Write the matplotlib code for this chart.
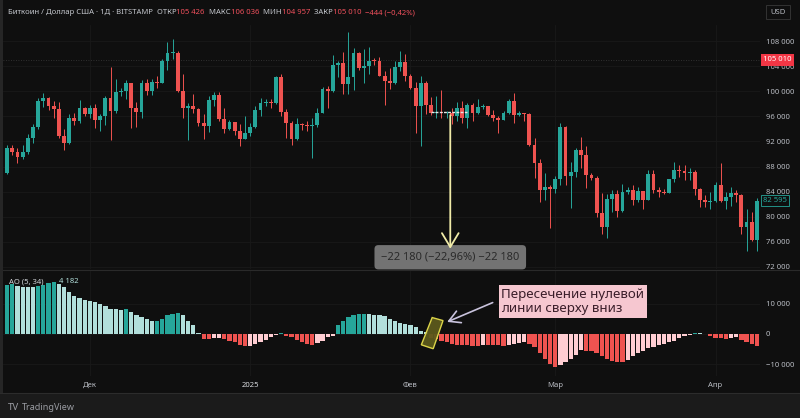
import numpy as np
import matplotlib
matplotlib.use("Agg")
import matplotlib.pyplot as plt
from matplotlib.patches import Polygon, Rectangle
from matplotlib.ticker import FuncFormatter

plt.rcParams['font.family'] = ['Noto Sans', 'DejaVu Sans']

# daily BTC/USD candles from 2024-11-15 (index 0) to 2025-04-09 (index 145)
first_open = 87000
closes = [91000, 90300, 89500, 90300, 92500, 94300, 98400, 99000, 97600, 97200,
          92900, 91700, 95800, 95200, 97300, 96400, 97300, 95500, 96000, 98900,
          96800, 99900, 100100, 101300, 97300, 96700, 101300, 100000, 101400, 101300,
          104800, 106100, 106100, 100100, 97300, 97600, 97200, 95000, 94400, 98600,
          99400, 95600, 94000, 95100, 93600, 92400, 93400, 94300, 97000, 98100,
          98300, 98200, 102300, 96700, 94900, 92400, 94800, 94600, 94400, 94600,
          96600, 100400, 100000, 104200, 104500, 101200, 102200, 106100, 103700, 104000,
          104900, 104800, 102500, 101600, 101300, 103800, 104700, 102400, 100600, 97600,
          101300, 97800, 96600, 96600, 96500, 96500, 96100, 97400, 95800, 97800,
          96600, 97500, 97600, 96200, 95800, 95500, 96600, 98400, 96200, 96600,
          96300, 91400, 88600, 84200, 84700, 84400, 86000, 94300, 86500, 87200,
          90600, 89900, 86700, 86200, 80600, 78400, 82900, 83700, 81000, 84000,
          84300, 82600, 84100, 82700, 86800, 84200, 84000, 83800, 86000, 87400,
          87300, 86900, 87200, 84400, 82600, 82400, 82500, 85100, 82500, 83100,
          83800, 83500, 78300, 79100, 76300, 82595]
highs = [91500, 91500, 91000, 91500, 93200, 94800, 98900, 99800, 99100, 98500,
         98300, 94000, 96400, 96500, 98600, 97500, 97800, 98000, 96400, 99300,
         103900, 102000, 100600, 101800, 101300, 98300, 101800, 102000, 101900, 102500,
         105200, 107800, 108400, 106400, 102700, 98200, 99500, 97300, 96300, 99300,
         99900, 99900, 97300, 95500, 95100, 94800, 96000, 94900, 97700, 98900,
         98700, 98800, 102500, 102700, 97200, 95300, 95800, 95000, 95300, 95800,
         97300, 100700, 100800, 105800, 104900, 106300, 109400, 106900, 106300, 106800,
         107100, 105300, 105500, 103200, 103700, 104800, 106400, 106000, 102700, 101400,
         102500, 101700, 99100, 99200, 100200, 96900, 97300, 98300, 98400, 98100,
         98100, 98800, 97900, 97700, 97000, 96000, 96900, 98700, 99700, 96900,
         96600, 96500, 92500, 89200, 87000, 85000, 86500, 95000, 94400, 88800,
         91000, 92700, 91200, 86900, 86500, 83800, 83600, 84300, 84300, 85300,
         84700, 85000, 84700, 84100, 87400, 87400, 84700, 84500, 86100, 88800,
         88300, 88300, 87800, 87500, 84600, 83500, 83900, 85500, 88500, 83900,
         84700, 84200, 83700, 81200, 80800, 83000]
lows = [86800, 89800, 88600, 89200, 90000, 91800, 94000, 97500, 97000, 95800,
        92600, 90700, 91600, 94700, 95000, 96000, 95800, 94200, 93600, 94700,
        92200, 96500, 99200, 98800, 94200, 94300, 95800, 99400, 99400, 100600,
        101300, 103400, 105200, 99900, 95800, 92200, 96500, 94400, 92400, 93500,
        97600, 95200, 93400, 93800, 93100, 91300, 92400, 92900, 94200, 96000,
        97600, 97300, 97900, 96100, 92600, 91400, 92200, 93800, 93700, 89300,
        94300, 96500, 97400, 99900, 102300, 99600, 99600, 100200, 103400, 101300,
        102800, 104200, 102400, 97800, 100300, 101200, 103300, 101600, 100300, 93400,
        91300, 96300, 96200, 95700, 95700, 95700, 94800, 95300, 94900, 94100,
        95300, 96300, 97200, 96000, 95300, 93300, 95400, 96400, 94900, 96100,
        95300, 91200, 86200, 82300, 82700, 78200, 83800, 85000, 85100, 81400,
        86300, 87800, 84600, 85800, 80000, 77300, 76600, 80700, 79900, 80700,
        83700, 81900, 82400, 81300, 82600, 83800, 83200, 83600, 83800, 85600,
        86300, 85900, 85900, 83500, 81600, 81600, 81300, 82400, 82300, 81200,
        81700, 82400, 77200, 74500, 76200, 74600]

# Awesome Oscillator (5, 34) histogram
ao_values = [16200, 16400, 15900, 15600, 15500, 15400, 15800, 16300, 16700, 17100,
             16500, 15400, 13700, 12600, 11900, 11100, 10900, 10500, 9900, 9200,
             8300, 8100, 8000, 8100, 7200, 6100, 5600, 5000, 4100, 4400,
             5000, 6100, 6600, 7000, 6300, 4400, 2800, 200, -1700, -1800,
             -1500, -1400, -1700, -2200, -2800, -3700, -4100, -3900, -3300, -2600,
             -1900, -1100, -400, 150, -600, -1100, -1900, -2600, -3300, -3700,
             -3000, -2200, -1100, -600, 2800, 4400, 5600, 6300, 6600, 6700,
             6500, 6300, 6100, 5900, 5000, 4100, 3700, 3300, 3000, 2200,
             1100, 500, -1400, -1700, -2200, -2800, -3300, -3700, -3750, -3800,
             -3850, -3900, -3600, -3700, -3750, -3800, -3850, -3700, -3400, -3000,
             -2800, -3300, -4400, -6300, -8300, -10000, -10800, -10300, -9400, -8300,
             -7000, -5300, -5500, -5800, -6400, -7300, -8300, -8900, -9200, -9400,
             -8600, -7300, -6300, -5600, -4800, -4200, -3700, -3300, -2800, -2200,
             -1500, -800, -300, 400, 300, -150, -700, -1400, -1500, -1600,
             -1300, -1100, -2100, -2700, -3200, -3900]

month_pos = [16, 47, 78, 106, 137]
month_labels = ["Дек", "2025", "Фев", "Мар", "Апр"]
price_ticks = [72000, 76000, 80000, 84000, 88000, 92000, 96000, 100000, 104000, 108000]
ao_ticks = [-10000, 0, 10000]

# drop measurement (from the Feb plateau down to the April low)
measure_start, measure_end = 82, 89
measure_top = 96640
measure_drop = -22180
cross_idx = 81.6

UP, DOWN = '#26a69a', '#ef5350'
UP_LIGHT, DOWN_LIGHT = '#b2dfdb', '#ffcdd2'
BG = '#0f0f0f'
TXT = '#b8bbc2'

W, H = 800, 418
fig = plt.figure(figsize=(8, 4.18), dpi=100, facecolor=BG)


def box(x0, y0, x1, y1):
    return [x0 / W, 1 - y1 / H, (x1 - x0) / W, (y1 - y0) / H]


ax = fig.add_axes(box(3, 25, 760, 269))
ao_ax = fig.add_axes(box(3, 271, 760, 376))

opens = [first_open] + closes[:-1]
x = np.arange(len(closes))
o = np.array(opens)
c = np.array(closes)
up = c >= o
cols = np.where(up, UP, DOWN)
body_lo = np.minimum(o, c)
body_h = np.maximum(np.abs(c - o), 130)

ax.vlines(x, lows, highs, colors=cols, lw=0.7, zorder=3)
ax.bar(x, body_h, bottom=body_lo, width=0.74, color=cols, lw=0, zorder=4)

fmt = FuncFormatter(lambda v, p: f"{v:,.0f}".replace(",", " ").replace("-", "−"))
for a in (ax, ao_ax):
    a.set_facecolor(BG)
    a.set_xlim(-0.8, 145.6)
    for s in a.spines.values():
        s.set_visible(False)
    a.yaxis.tick_right()
    a.yaxis.set_major_formatter(fmt)
    a.tick_params(axis='y', length=0, pad=4, labelsize=5.5, labelcolor=TXT)
    a.tick_params(axis='x', length=0, pad=4, labelsize=5.5, labelcolor=TXT)
    a.set_xticks(month_pos)
    a.grid(True, color='#191919', lw=0.6, zorder=0)

ax.set_ylim(71680, 110560)
ax.set_yticks(price_ticks)
ax.set_xticklabels([])
ax.axhline(105010, color='#3a3a3a', lw=0.6, ls=(0, (1, 2)), zorder=2)

ao_ax.set_ylim(-13900, 20770)
ao_ax.set_yticks(ao_ticks)
ao_ax.set_xticklabels(month_labels)
for t in ao_ax.get_xticklabels():
    if t.get_text() == "2025":
        t.set_fontweight('bold')
        t.set_color('#d8dadf')

ao_arr = np.array(ao_values)
rising = np.concatenate([[True], ao_arr[1:] >= ao_arr[:-1]])
ao_cols = np.where(ao_arr >= 0,
                   np.where(rising, UP, UP_LIGHT),
                   np.where(rising, DOWN_LIGHT, DOWN))
ao_ax.bar(x, ao_arr, width=0.82, color=ao_cols, lw=0, zorder=3)
ao_ax.text(0.008, 0.93, "AO (5, 34)", transform=ao_ax.transAxes, fontsize=5.5,
           color='#d0d3d8', va='top', zorder=6)
ao_ax.text(0.074, 0.93, "4 182", transform=ao_ax.transAxes, fontsize=5.5,
           color='#b2dfdb', va='top', zorder=6)

# measurement
ax.hlines(measure_top, measure_start, measure_end, colors='#e8e8e8', lw=1.0,
          linestyles=(0, (2, 1)), zorder=6)
mid = (measure_start + measure_end) / 2 + 0.2
ax.annotate("", xy=(mid, measure_top + measure_drop), xytext=(mid, measure_top),
            arrowprops=dict(arrowstyle='->,head_length=1.0,head_width=0.6',
                            color='#f0eba8', lw=1.3), zorder=9)
ax.text(mid, 73550, "−22 180 (−22,96%) −22 180", ha='center', va='center',
        fontsize=8, color='#2a2a2a', zorder=8,
        bbox=dict(boxstyle='round,pad=0.6,rounding_size=0.35', fc='#737373', ec='none'))

# zero-line crossing marker
marker = Polygon([(cross_idx + 0.6, 5400), (cross_idx + 2.7, 4400),
                  (cross_idx + 0.8, -4900), (cross_idx - 1.5, -3600)],
                 closed=True, fc='#5c5a1c', ec='#e6de4c', lw=1.0, alpha=0.95, zorder=5)
ao_ax.add_patch(marker)
ao_ax.annotate("", xy=(cross_idx + 3.0, 3600), xytext=(cross_idx + 12.8, 10700),
               arrowprops=dict(arrowstyle='->,head_length=0.8,head_width=0.45',
                               color='#c9c3dd', lw=1.2), zorder=7)
ao_ax.text(cross_idx + 14.0, 10700, "Пересечение нулевой\nлинии сверху вниз",
           fontsize=9.6, fontweight='bold', color='#3b1e2a', va='center', ha='left',
           linespacing=1.05, zorder=8,
           bbox=dict(boxstyle='square,pad=0.22', fc='#f6c7d0', ec='none'))

# price labels on the right scale
ax.text(1.004, 105010, "105 010", transform=ax.get_yaxis_transform(), fontsize=5.5,
        color='white', va='center', ha='left', zorder=9, clip_on=False,
        bbox=dict(boxstyle='square,pad=0.3', fc='#f23645', ec='none'))
ax.text(1.004, closes[-1], "82 595", transform=ax.get_yaxis_transform(), fontsize=5.5,
        color=UP, va='center', ha='left', zorder=9, clip_on=False,
        bbox=dict(boxstyle='square,pad=0.3', fc=BG, ec=UP, lw=0.6))

# frame, pane separator, footer
fig.patches.append(Rectangle((0, 0), 1, 25 / H, transform=fig.transFigure,
                             fc='#1b1b1b', ec='none', zorder=0))
fig.add_artist(plt.Line2D([3 / W, 1], [1 - 270 / H] * 2, color='#2a2a2a', lw=0.8))
fig.add_artist(plt.Line2D([0, 1], [25 / H] * 2, color='#2c2c2c', lw=0.8))
fig.patches.append(Rectangle((0, 25 / H), 3 / W, 1 - 25 / H, transform=fig.transFigure,
                             fc='#262626', ec='none', zorder=0))
fig.text(8 / W, 1 - 407 / H, "TV", fontsize=7, fontweight='bold', color='#9a9ca2',
         va='center')
fig.text(22 / W, 1 - 407 / H, "TradingView", fontsize=6.5, color='#9a9ca2', va='center')

# USD box
fig.text(778 / W, 1 - 12 / H, "USD", fontsize=5.5, color=TXT, ha='center', va='center',
         bbox=dict(boxstyle='square,pad=0.5', fc=BG, ec='#333333', lw=0.7))

# header line
renderer = fig.canvas.get_renderer()
grey, red = '#c3c6cc', '#f0505c'
parts = [("Биткоин / Доллар США · 1Д · BITSTAMP", grey), ("  ОТКР", grey),
         ("105 426", red), ("  МАКС", grey), ("106 036", red), ("  МИН", grey),
         ("104 957", red), ("  ЗАКР", grey), ("105 010", red), ("  −444 (−0,42%)", red)]
hx = 8
for s, col in parts:
    t = fig.text(hx / W, 1 - 13 / H, s, fontsize=5.5, color=col, va='center')
    bb = t.get_window_extent(renderer=renderer)
    hx += bb.width

fig.savefig("out.png", dpi=100, facecolor=BG)
